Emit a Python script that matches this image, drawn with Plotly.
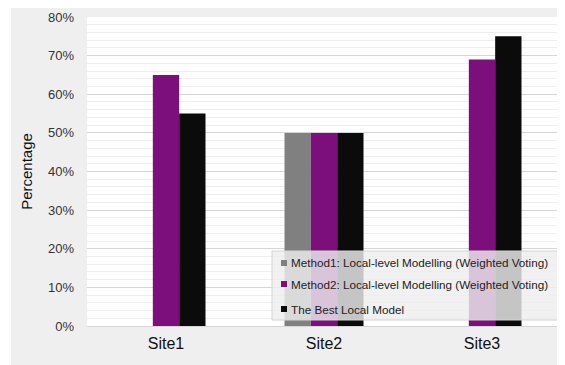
import plotly.graph_objects as go

categories = ["Site1", "Site2", "Site3"]
series_names = [
    "Method1: Local-level Modelling (Weighted Voting)",
    "Method2: Local-level Modelling (Weighted Voting)",
    "The Best Local Model",
]
method1 = [None, 0.50, None]
method2 = [0.65, 0.50, 0.69]
best_local = [0.55, 0.50, 0.75]
y_ticks = [0, 0.1, 0.2, 0.3, 0.4, 0.5, 0.6, 0.7, 0.8]

colors = ["#808080", "#7c0f7c", "#0b0b0b"]
values = [method1, method2, best_local]

font_family = "Liberation Sans, Arial, Helvetica, sans-serif"

fig = go.Figure()
for name, vals, col in zip(series_names, values, colors):
    fig.add_trace(go.Bar(
        x=categories, y=vals, name=name, showlegend=False,
        marker=dict(color=col, line=dict(color=col, width=0)),
    ))

# manual legend (small square swatches next to the text, like the reference)
leg_x0, leg_x1, leg_y0, leg_y1 = 0.3903, 0.9937, 0.0194, 0.2427
row_y = [0.2039, 0.1359, 0.0550]
sq_x0, sq_x1, sq_h = 0.4093, 0.4219, 0.0097
shapes = [
    dict(type="rect", xref="paper", yref="paper", layer="below",
         x0=-0.1603, x1=1.05, y0=-0.2, y1=1.1,
         fillcolor="#efefef", line=dict(width=0)),
    dict(type="rect", xref="paper", yref="paper", layer="below",
         x0=0, x1=1, y0=0, y1=1,
         fillcolor="white", line=dict(width=0)),
    dict(type="rect", xref="paper", yref="paper", layer="above",
         x0=leg_x0, x1=leg_x1, y0=leg_y0, y1=leg_y1,
         fillcolor="rgba(238,238,238,0.82)", line=dict(color="#d4d4d4", width=1)),
]
annotations = []
for name, col, ry in zip(series_names, colors, row_y):
    shapes.append(dict(type="rect", xref="paper", yref="paper", layer="above",
                       x0=sq_x0, x1=sq_x1, y0=ry - sq_h, y1=ry + sq_h,
                       fillcolor=col, line=dict(width=0)))
    annotations.append(dict(xref="paper", yref="paper", x=0.4262, y=ry,
                            xanchor="left", yanchor="middle", showarrow=False,
                            text=name, font=dict(size=11.7, color="#222", family=font_family)))

fig.update_layout(
    width=557, height=357,
    margin=dict(l=79, r=4, t=9, b=39),
    paper_bgcolor="white",
    plot_bgcolor="rgba(0,0,0,0)",
    barmode="group",
    bargap=0.5,
    bargroupgap=0,
    font=dict(family=font_family, color="#222"),
    showlegend=False,
    shapes=shapes,
    annotations=annotations,
)

fig.update_yaxes(
    range=[0, 0.8],
    tickvals=y_ticks,
    tickformat=".0%",
    showgrid=True, gridcolor="#d6d6d6", gridwidth=1,
    minor=dict(dtick=0.02, showgrid=True, gridcolor="#eeeeee", gridwidth=1),
    zeroline=False,
    showline=False,
    ticks="",
    ticklabelstandoff=12,
    tickfont=dict(size=13, color="#333"),
    title=dict(text="Percentage", font=dict(size=15, color="#111"), standoff=11),
    automargin=False,
)
fig.update_xaxes(
    showgrid=False,
    showline=True, linecolor="#d6d6d6", linewidth=1,
    ticks="",
    ticklabelstandoff=3,
    tickfont=dict(size=16, color="#111"),
    automargin=False,
)

fig.write_html("out.html")
